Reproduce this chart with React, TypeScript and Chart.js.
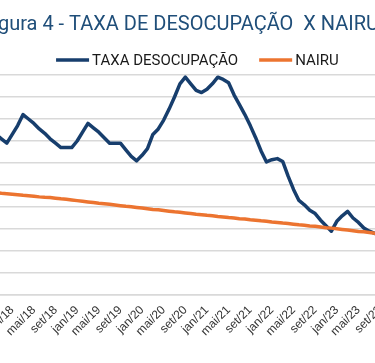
import React, { useEffect, useRef } from "react";
import { Chart, registerables } from "chart.js";

Chart.register(...registerables);

const categories: string[] = [
  "set/17", "out/17", "nov/17", "dez/17",
  "jan/18", "fev/18", "mar/18", "abr/18", "mai/18", "jun/18", "jul/18", "ago/18", "set/18", "out/18", "nov/18", "dez/18",
  "jan/19", "fev/19", "mar/19", "abr/19", "mai/19", "jun/19", "jul/19", "ago/19", "set/19", "out/19", "nov/19", "dez/19",
  "jan/20", "fev/20", "mar/20", "abr/20", "mai/20", "jun/20", "jul/20", "ago/20", "set/20", "out/20", "nov/20", "dez/20",
  "jan/21", "fev/21", "mar/21", "abr/21", "mai/21", "jun/21", "jul/21", "ago/21", "set/21", "out/21", "nov/21", "dez/21",
  "jan/22", "fev/22", "mar/22", "abr/22", "mai/22", "jun/22", "jul/22", "ago/22", "set/22", "out/22", "nov/22", "dez/22",
  "jan/23", "fev/23", "mar/23", "abr/23", "mai/23", "jun/23", "jul/23", "ago/23", "set/23", "out/23", "nov/23", "dez/23",
];

const taxaDesocupacao: number[] = [
  12.5, 12.3, 12.1, 11.9,
  12.3, 12.7, 13.2, 13.0, 12.8, 12.55, 12.35, 12.1, 11.9, 11.7, 11.7, 11.7,
  12.0, 12.4, 12.8, 12.6, 12.4, 12.15, 11.9, 11.9, 11.9, 11.6, 11.3, 11.1,
  11.35, 11.65, 12.3, 12.55, 12.95, 13.45, 14.0, 14.6, 14.9, 14.6, 14.3, 14.2,
  14.35, 14.6, 14.9, 14.8, 14.65, 14.1, 13.65, 13.2, 12.7, 12.15, 11.55, 11.05,
  11.15, 11.2, 11.07, 10.4, 9.8, 9.3, 9.1, 8.85, 8.7, 8.4, 8.15, 7.9,
  8.35, 8.6, 8.8, 8.5, 8.3, 8.05, 7.9, 7.8, 7.7, 7.6, 7.5, 7.4,
];

const nairu: number[] = [
  9.67, 9.65, 9.62, 9.6,
  9.58, 9.56, 9.53, 9.51, 9.49, 9.46, 9.44, 9.43, 9.4, 9.37, 9.35, 9.32,
  9.29, 9.26, 9.23, 9.2, 9.17, 9.15, 9.12, 9.09, 9.06, 9.03, 9.01, 8.98,
  8.95, 8.92, 8.89, 8.87, 8.84, 8.81, 8.78, 8.76, 8.73, 8.7, 8.67, 8.65,
  8.62, 8.6, 8.57, 8.55, 8.52, 8.5, 8.47, 8.45, 8.42, 8.4, 8.37, 8.35,
  8.32, 8.3, 8.27, 8.25, 8.22, 8.19, 8.17, 8.14, 8.12, 8.09, 8.06, 8.04,
  8.01, 7.98, 7.95, 7.92, 7.89, 7.87, 7.84, 7.81, 7.78, 7.76, 7.73, 7.7,
];

const seriesNames = ["TAXA DESOCUPAÇÃO", "NAIRU"];
const titleText = "Figura 4 - TAXA DE DESOCUPAÇÃO  X NAIRU";
const yMin = 5;
const yMax = 15;
const yStep = 1;

const BLUE = "#173E6D";
const ORANGE = "#EC7430";
const GRID = "#d9d9d9";

const CANVAS_LEFT = -60;
const CANVAS_W = 481;
const CANVAS_H = 363;
const LEFT_AXIS_W = 50.6;
const RIGHT_AXIS_W = 24.7;

const legendPlugin = {
  id: "excelLegend",
  afterDraw(chart: any) {
    const ctx = chart.ctx;
    const ds = chart.data.datasets;
    ctx.save();
    ctx.font = "15px Roboto";
    const lineLen = 33;
    const gapText = 3;
    const gapItem = 21;
    const widths = ds.map((d: any) => lineLen + gapText + ctx.measureText(d.label).width);
    const total = widths.reduce((a: number, b: number) => a + b, 0) + gapItem * (ds.length - 1);
    const ca = chart.chartArea;
    let x = (ca.left + ca.right) / 2 + 4 - total / 2;
    const y = 60;
    ds.forEach((d: any, i: number) => {
      ctx.strokeStyle = d.borderColor;
      ctx.lineWidth = 3.5;
      ctx.lineCap = "butt";
      ctx.beginPath();
      ctx.moveTo(x, y);
      ctx.lineTo(x + lineLen, y);
      ctx.stroke();
      ctx.fillStyle = "#1a1a1a";
      ctx.textBaseline = "middle";
      ctx.textAlign = "left";
      ctx.fillText(d.label, x + lineLen + gapText, y + 1.5);
      x += widths[i] + gapItem;
    });
    ctx.restore();
  },
};

export default function App() {
  const ref = useRef<HTMLCanvasElement | null>(null);

  useEffect(() => {
    if (!ref.current) return;
    const chart = new Chart(ref.current, {
      type: "line",
      data: {
        labels: categories,
        datasets: [
          {
            label: seriesNames[0],
            data: taxaDesocupacao,
            borderColor: BLUE,
            backgroundColor: BLUE,
            borderWidth: 3.5,
            pointRadius: 0,
            tension: 0,
            borderJoinStyle: "round",
            borderCapStyle: "round",
            order: 2,
          },
          {
            label: seriesNames[1],
            data: nairu,
            borderColor: ORANGE,
            backgroundColor: ORANGE,
            borderWidth: 3.5,
            pointRadius: 0,
            tension: 0,
            borderJoinStyle: "round",
            borderCapStyle: "round",
            order: 1,
          },
        ],
      },
      options: {
        responsive: false,
        animation: false,
        layout: { padding: { left: 0, right: 0, top: 0, bottom: 8 }, autoPadding: false },
        plugins: {
          legend: { display: false },
          tooltip: { enabled: false },
          title: {
            display: true,
            text: titleText,
            color: "#1F4E79",
            font: { family: "Roboto", size: 20, weight: "normal" },
            padding: { top: 13, bottom: 38 },
          },
        },
        scales: {
          x: {
            type: "category",
            offset: false,
            grid: { display: false, drawTicks: false },
            border: { display: true, color: GRID, width: 1.5 },
            afterFit(scale: any) {
              scale.height = 60;
            },
            ticks: {
              autoSkip: false,
              minRotation: 45,
              maxRotation: 45,
              padding: 8,
              color: "#333333",
              font: { family: "'Liberation Sans', Arial, sans-serif", size: 12 },
              callback(this: any, value: any) {
                const l = this.getLabelForValue(value);
                return /^(jan|mai|set)/.test(l) ? l : null;
              },
            },
          },
          y: {
            position: "left",
            min: yMin,
            max: yMax,
            grid: { color: GRID, lineWidth: 1.5, drawTicks: false },
            border: { display: false },
            afterFit(scale: any) {
              scale.width = LEFT_AXIS_W;
            },
            ticks: { display: false, stepSize: yStep },
          },
          yRight: {
            type: "linear",
            position: "right",
            min: yMin,
            max: yMax,
            grid: { display: false, drawTicks: false },
            border: { display: false },
            afterFit(scale: any) {
              scale.width = RIGHT_AXIS_W;
            },
            ticks: { display: false },
          },
        },
      },
      plugins: [legendPlugin],
    });
    return () => chart.destroy();
  }, []);

  return (
    <div
      style={{
        position: "fixed",
        left: 0,
        top: 0,
        width: 375,
        height: 363,
        overflow: "hidden",
        background: "#ffffff",
      }}
    >
      <div style={{ position: "absolute", left: CANVAS_LEFT, top: 0, width: CANVAS_W, height: CANVAS_H }}>
        <canvas ref={ref} width={CANVAS_W} height={CANVAS_H} style={{ width: CANVAS_W, height: CANVAS_H, display: "block" }} />
      </div>
    </div>
  );
}
